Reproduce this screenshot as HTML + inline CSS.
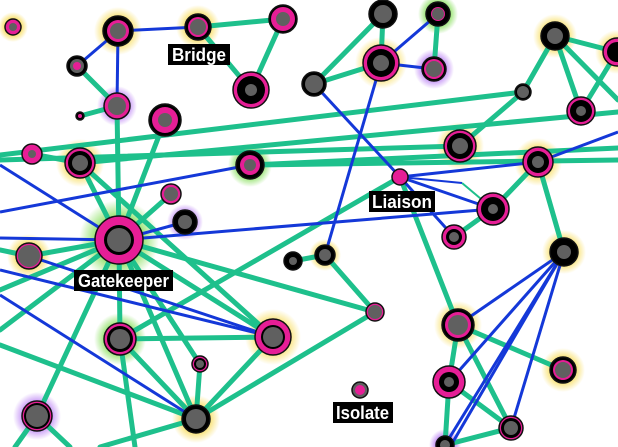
<!DOCTYPE html>
<html><head><meta charset="utf-8"><style>
html,body{margin:0;padding:0;background:#fff;}
svg{display:block;}
.lb{font-family:"Liberation Sans Narrow","Liberation Sans",sans-serif;font-weight:bold;font-size:18px;fill:#fff;}
.n circle:first-child{stroke:#111;stroke-width:1.5;}
</style></head><body>
<svg width="618" height="447" viewBox="0 0 618 447" xmlns="http://www.w3.org/2000/svg">
<defs>
<radialGradient id="gy"><stop offset="0.4" stop-color="#f5d020" stop-opacity="0.85"/><stop offset="1" stop-color="#f5d020" stop-opacity="0"/></radialGradient>
<radialGradient id="gg"><stop offset="0.4" stop-color="#50d010" stop-opacity="0.85"/><stop offset="1" stop-color="#50d010" stop-opacity="0"/></radialGradient>
<radialGradient id="gp"><stop offset="0.4" stop-color="#a050f0" stop-opacity="0.85"/><stop offset="1" stop-color="#a050f0" stop-opacity="0"/></radialGradient>
</defs>
<!-- glows -->
<circle cx="13" cy="27" r="15" fill="url(#gy)"/>
<circle cx="118" cy="31" r="24" fill="url(#gy)"/>
<circle cx="198" cy="27" r="22" fill="url(#gy)"/>
<circle cx="117" cy="106" r="20" fill="url(#gp)"/>
<circle cx="80" cy="163" r="24" fill="url(#gy)"/>
<circle cx="250" cy="165" r="22" fill="url(#gg)"/>
<circle cx="185" cy="222" r="18" fill="url(#gp)"/>
<circle cx="119" cy="240" r="40" fill="url(#gg)"/>
<circle cx="29" cy="256" r="22" fill="url(#gy)"/>
<circle cx="120" cy="339" r="26" fill="url(#gg)"/>
<circle cx="273" cy="337" r="28" fill="url(#gy)"/>
<circle cx="196" cy="419" r="24" fill="url(#gy)"/>
<circle cx="37" cy="416" r="24" fill="url(#gp)"/>
<circle cx="325" cy="255" r="16" fill="url(#gy)"/>
<circle cx="438" cy="14" r="20" fill="url(#gg)"/>
<circle cx="381" cy="63" r="26" fill="url(#gy)"/>
<circle cx="434" cy="69" r="20" fill="url(#gp)"/>
<circle cx="555" cy="36" r="22" fill="url(#gy)"/>
<circle cx="617" cy="52" r="22" fill="url(#gy)"/>
<circle cx="460" cy="146" r="24" fill="url(#gy)"/>
<circle cx="538" cy="162" r="24" fill="url(#gy)"/>
<circle cx="564" cy="252" r="22" fill="url(#gy)"/>
<circle cx="458" cy="325" r="24" fill="url(#gy)"/>
<circle cx="563" cy="370" r="22" fill="url(#gy)"/>
<circle cx="445" cy="445" r="16" fill="url(#gp)"/>
<!-- green edges -->
<g stroke="#1ec08c" stroke-width="5" fill="none" stroke-linecap="round">
<line x1="198" y1="27" x2="283" y2="19"/><line x1="198" y1="27" x2="251" y2="90"/><line x1="283" y1="19" x2="251" y2="90"/>
<line x1="77" y1="66" x2="117" y2="106"/><line x1="80" y1="116" x2="117" y2="106"/><line x1="117" y1="106" x2="119" y2="240"/>
<line x1="165" y1="120" x2="119" y2="240"/><line x1="32" y1="154" x2="80" y2="163"/>
<line x1="80" y1="163" x2="618" y2="112"/><line x1="80" y1="163" x2="119" y2="240"/><line x1="80" y1="163" x2="273" y2="337"/>
<line x1="250" y1="165" x2="618" y2="148"/><line x1="250" y1="165" x2="618" y2="160"/>
<line x1="0" y1="155" x2="523" y2="92"/><line x1="0" y1="160" x2="460" y2="146"/>
<line x1="119" y1="240" x2="171" y2="194"/><line x1="119" y1="240" x2="120" y2="339"/><line x1="119" y1="240" x2="273" y2="337"/>
<line x1="119" y1="240" x2="196" y2="419"/><line x1="119" y1="240" x2="29" y2="256"/><line x1="119" y1="240" x2="0" y2="290"/>
<line x1="119" y1="240" x2="0" y2="330"/><line x1="119" y1="240" x2="37" y2="416"/><line x1="119" y1="240" x2="375" y2="312"/>
<line x1="119" y1="240" x2="200" y2="364"/>
<line x1="0" y1="250" x2="29" y2="256"/>
<line x1="120" y1="339" x2="273" y2="337"/><line x1="120" y1="339" x2="196" y2="419"/><line x1="120" y1="339" x2="135" y2="447"/>
<line x1="120" y1="339" x2="400" y2="177"/>
<line x1="273" y1="337" x2="196" y2="419"/><line x1="200" y1="364" x2="196" y2="419"/>
<line x1="196" y1="419" x2="375" y2="312"/><line x1="196" y1="419" x2="100" y2="447"/><line x1="0" y1="345" x2="196" y2="419"/>
<line x1="37" y1="416" x2="15" y2="447"/><line x1="37" y1="416" x2="70" y2="447"/>
<line x1="293" y1="261" x2="325" y2="255"/><line x1="325" y1="255" x2="375" y2="312"/>
<line x1="383" y1="14" x2="314" y2="84"/><line x1="383" y1="14" x2="381" y2="63"/><line x1="381" y1="63" x2="314" y2="84"/>
<line x1="438" y1="14" x2="434" y2="69"/>
<line x1="555" y1="36" x2="523" y2="92"/><line x1="555" y1="36" x2="581" y2="111"/><line x1="555" y1="36" x2="617" y2="52"/><line x1="555" y1="36" x2="618" y2="100"/>
<line x1="617" y1="52" x2="581" y2="111"/><line x1="523" y1="92" x2="460" y2="146"/>
<line x1="400" y1="177" x2="458" y2="325"/>
<line x1="493" y1="209" x2="538" y2="162"/><line x1="538" y1="162" x2="564" y2="252"/><line x1="454" y1="237" x2="493" y2="209"/>
<line x1="458" y1="325" x2="563" y2="370"/><line x1="458" y1="325" x2="449" y2="382"/><line x1="458" y1="325" x2="511" y2="428"/>
<line x1="449" y1="382" x2="511" y2="428"/><line x1="449" y1="382" x2="445" y2="445"/><line x1="445" y1="445" x2="511" y2="428"/>
</g>
<line x1="462" y1="183" x2="493" y2="209" stroke="#1ec08c" stroke-width="2"/>
<!-- blue edges -->
<g stroke="#1438d8" stroke-width="3" fill="none">
<line x1="118" y1="31" x2="198" y2="27"/><line x1="118" y1="31" x2="77" y2="66"/><line x1="118" y1="31" x2="117" y2="106"/>
<line x1="0" y1="212" x2="250" y2="165"/><line x1="0" y1="165" x2="119" y2="240"/><line x1="119" y1="240" x2="185" y2="222"/>
<line x1="0" y1="238" x2="119" y2="240"/><line x1="119" y1="240" x2="493" y2="209"/>
<line x1="29" y1="256" x2="273" y2="337"/><line x1="0" y1="270" x2="273" y2="337"/><line x1="0" y1="295" x2="196" y2="419"/>
<line x1="438" y1="14" x2="381" y2="63"/><line x1="381" y1="63" x2="434" y2="69"/><line x1="381" y1="63" x2="325" y2="255"/>
<line x1="314" y1="84" x2="400" y2="177"/><line x1="400" y1="177" x2="538" y2="162"/><line x1="400" y1="177" x2="493" y2="209"/>
<line x1="400" y1="177" x2="454" y2="237"/><line x1="538" y1="162" x2="618" y2="132"/>
<line x1="564" y1="252" x2="458" y2="325"/><line x1="564" y1="252" x2="449" y2="382"/><line x1="564" y1="252" x2="445" y2="445"/>
<line x1="564" y1="252" x2="450" y2="447"/><line x1="564" y1="252" x2="511" y2="428"/>
</g>
<line x1="400" y1="177" x2="462" y2="183" stroke="#1438d8" stroke-width="2"/>
<!-- nodes -->
<g class="n">
<g><circle cx="13" cy="27" r="8" fill="#e61e96"/><circle cx="13" cy="27" r="4" fill="#606060"/></g>
<g><circle cx="118" cy="31" r="15" fill="#000"/><circle cx="118" cy="31" r="11" fill="#e61e96"/><circle cx="118" cy="31" r="8" fill="#606060"/></g>
<g><circle cx="198" cy="27" r="13" fill="#000"/><circle cx="198" cy="27" r="10" fill="#e61e96"/><circle cx="198" cy="27" r="8" fill="#606060"/></g>
<g><circle cx="283" cy="19" r="14" fill="#000"/><circle cx="283" cy="19" r="12" fill="#e61e96"/><circle cx="283" cy="19" r="7" fill="#606060"/></g>
<g><circle cx="77" cy="66" r="10" fill="#000"/><circle cx="77" cy="66" r="7" fill="#606060"/><circle cx="77" cy="66" r="4" fill="#e61e96"/></g>
<g><circle cx="117" cy="106" r="13" fill="#e61e96"/><circle cx="117" cy="106" r="9" fill="#606060"/></g>
<g><circle cx="80" cy="116" r="4" fill="#000"/><circle cx="80" cy="116" r="2" fill="#e61e96"/></g>
<g><circle cx="165" cy="120" r="16" fill="#000"/><circle cx="165" cy="120" r="13" fill="#e61e96"/><circle cx="165" cy="120" r="7" fill="#606060"/></g>
<g><circle cx="251" cy="90" r="18" fill="#e61e96"/><circle cx="251" cy="90" r="14" fill="#000"/><circle cx="251" cy="90" r="6" fill="#606060"/></g>
<g><circle cx="32" cy="154" r="10" fill="#e61e96"/><circle cx="32" cy="154" r="4" fill="#606060"/></g>
<g><circle cx="80" cy="163" r="15" fill="#e61e96"/><circle cx="80" cy="163" r="12" fill="#000"/><circle cx="80" cy="163" r="8" fill="#606060"/></g>
<g><circle cx="250" cy="165" r="14" fill="#000"/><circle cx="250" cy="165" r="10" fill="#e61e96"/><circle cx="250" cy="165" r="6" fill="#606060"/></g>
<g><circle cx="171" cy="194" r="10" fill="#e61e96"/><circle cx="171" cy="194" r="7" fill="#606060"/></g>
<g><circle cx="185" cy="222" r="12" fill="#000"/><circle cx="185" cy="222" r="7" fill="#606060"/></g>
<g><circle cx="119" cy="240" r="24" fill="#e61e96"/><circle cx="119" cy="240" r="15" fill="#000"/><circle cx="119" cy="240" r="12" fill="#606060"/></g>
<g><circle cx="29" cy="256" r="13" fill="#e61e96"/><circle cx="29" cy="256" r="11" fill="#606060"/></g>
<g><circle cx="120" cy="339" r="16" fill="#e61e96"/><circle cx="120" cy="339" r="13" fill="#000"/><circle cx="120" cy="339" r="10" fill="#606060"/></g>
<g><circle cx="273" cy="337" r="18" fill="#e61e96"/><circle cx="273" cy="337" r="12" fill="#000"/><circle cx="273" cy="337" r="10" fill="#606060"/></g>
<g><circle cx="200" cy="364" r="8" fill="#e61e96"/><circle cx="200" cy="364" r="6" fill="#000"/><circle cx="200" cy="364" r="4" fill="#606060"/></g>
<g><circle cx="196" cy="419" r="14" fill="#000"/><circle cx="196" cy="419" r="10" fill="#606060"/></g>
<g><circle cx="37" cy="416" r="15" fill="#e61e96"/><circle cx="37" cy="416" r="13" fill="#000"/><circle cx="37" cy="416" r="11" fill="#606060"/></g>
<g><circle cx="293" cy="261" r="9" fill="#000"/><circle cx="293" cy="261" r="4" fill="#606060"/></g>
<g><circle cx="325" cy="255" r="10" fill="#000"/><circle cx="325" cy="255" r="6" fill="#606060"/></g>
<g><circle cx="375" cy="312" r="9" fill="#e61e96"/><circle cx="375" cy="312" r="7" fill="#606060"/></g>
<g><circle cx="360" cy="390" r="8" fill="#606060"/><circle cx="360" cy="390" r="5" fill="#e61e96"/></g>
<g><circle cx="383" cy="14" r="14" fill="#000"/><circle cx="383" cy="14" r="9" fill="#606060"/></g>
<g><circle cx="438" cy="14" r="12" fill="#000"/><circle cx="438" cy="14" r="7" fill="#e61e96"/><circle cx="438" cy="14" r="6" fill="#606060"/></g>
<g><circle cx="381" cy="63" r="18" fill="#e61e96"/><circle cx="381" cy="63" r="14" fill="#000"/><circle cx="381" cy="63" r="8" fill="#606060"/></g>
<g><circle cx="434" cy="69" r="12" fill="#000"/><circle cx="434" cy="69" r="10" fill="#e61e96"/><circle cx="434" cy="69" r="8" fill="#606060"/></g>
<g><circle cx="314" cy="84" r="12" fill="#000"/><circle cx="314" cy="84" r="9" fill="#606060"/></g>
<g><circle cx="523" cy="92" r="8" fill="#000"/><circle cx="523" cy="92" r="6" fill="#606060"/></g>
<g><circle cx="555" cy="36" r="14" fill="#000"/><circle cx="555" cy="36" r="8" fill="#606060"/></g>
<g><circle cx="617" cy="52" r="14" fill="#e61e96"/><circle cx="617" cy="52" r="10" fill="#000"/></g>
<g><circle cx="581" cy="111" r="14" fill="#e61e96"/><circle cx="581" cy="111" r="11" fill="#000"/><circle cx="581" cy="111" r="5" fill="#606060"/></g>
<g><circle cx="460" cy="146" r="16" fill="#e61e96"/><circle cx="460" cy="146" r="13" fill="#000"/><circle cx="460" cy="146" r="8" fill="#606060"/></g>
<g><circle cx="538" cy="162" r="15" fill="#e61e96"/><circle cx="538" cy="162" r="11" fill="#000"/><circle cx="538" cy="162" r="6" fill="#606060"/></g>
<g><circle cx="400" cy="177" r="8" fill="#e61e96"/></g>
<g><circle cx="493" cy="209" r="16" fill="#e61e96"/><circle cx="493" cy="209" r="12" fill="#000"/><circle cx="493" cy="209" r="5" fill="#606060"/></g>
<g><circle cx="454" cy="237" r="12" fill="#e61e96"/><circle cx="454" cy="237" r="8" fill="#000"/><circle cx="454" cy="237" r="5" fill="#606060"/></g>
<g><circle cx="564" cy="252" r="14" fill="#000"/><circle cx="564" cy="252" r="7" fill="#606060"/></g>
<g><circle cx="458" cy="325" r="16" fill="#000"/><circle cx="458" cy="325" r="13" fill="#e61e96"/><circle cx="458" cy="325" r="10" fill="#606060"/></g>
<g><circle cx="449" cy="382" r="16" fill="#e61e96"/><circle cx="449" cy="382" r="10" fill="#000"/><circle cx="449" cy="382" r="5" fill="#606060"/></g>
<g><circle cx="563" cy="370" r="13" fill="#000"/><circle cx="563" cy="370" r="10" fill="#e61e96"/><circle cx="563" cy="370" r="8" fill="#606060"/></g>
<g><circle cx="511" cy="428" r="12" fill="#e61e96"/><circle cx="511" cy="428" r="10" fill="#000"/><circle cx="511" cy="428" r="7" fill="#606060"/></g>
<g><circle cx="445" cy="445" r="9" fill="#000"/><circle cx="445" cy="445" r="5" fill="#606060"/></g>
</g>
<!-- labels -->
<rect x="168" y="44" width="62" height="21" fill="#000"/><text class="lb" x="172" y="61" textLength="54" lengthAdjust="spacingAndGlyphs">Bridge</text>
<rect x="369" y="191" width="66" height="21" fill="#000"/><text class="lb" x="372" y="208" textLength="60" lengthAdjust="spacingAndGlyphs">Liaison</text>
<rect x="74" y="270" width="99" height="21" fill="#000"/><text class="lb" x="78" y="287" textLength="91" lengthAdjust="spacingAndGlyphs">Gatekeeper</text>
<rect x="333" y="402" width="60" height="21" fill="#000"/><text class="lb" x="336" y="419" textLength="53" lengthAdjust="spacingAndGlyphs">Isolate</text>
</svg>
</body></html>
